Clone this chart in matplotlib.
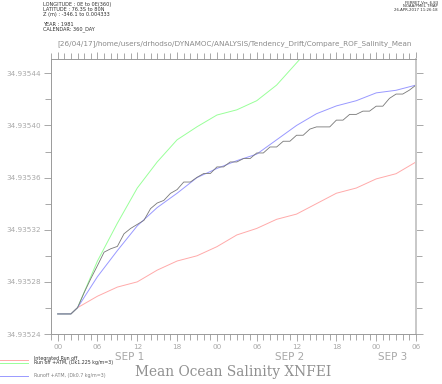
import numpy as np
import matplotlib
matplotlib.use('Agg')
import matplotlib.pyplot as plt

# hours since SEP 1 00:00
hours_3h = [0, 2, 3, 6, 9, 12, 15, 18, 21, 24, 27, 30, 33, 36, 39, 42, 45, 48, 51, 54]
red_vals = [34.9352554, 34.9352554, 34.9352602, 34.935269, 34.935276, 34.93528, 34.935289,
            34.935296, 34.9353, 34.935307, 34.935316, 34.935321, 34.935328, 34.935332,
            34.93534, 34.935348, 34.935352, 34.935359, 34.935363, 34.935372]
blue_vals = [34.9352554, 34.9352554, 34.9352602, 34.935284, 34.935304, 34.935323, 34.935337,
             34.935348, 34.93536, 34.935367, 34.935373, 34.935378, 34.935389, 34.9354,
             34.935409, 34.935415, 34.935419, 34.935425, 34.935427, 34.935431]
hours_green = [0, 2, 3, 6, 9, 12, 15, 18, 21, 24, 27, 30, 33, 36, 39]
green_vals = [34.9352554, 34.9352554, 34.9352602, 34.935296, 34.935325, 34.935352, 34.935372,
              34.935389, 34.935399, 34.935408, 34.935412, 34.935419, 34.935431, 34.935448,
              34.935465]
hours_1h = list(range(55))
black_vals = [34.9352554, 34.9352554, 34.9352554, 34.9352602, 34.9352718, 34.9352825,
              34.9352925, 34.9353028, 34.9353054, 34.9353072, 34.9353169, 34.935321,
              34.9353241, 34.9353272, 34.9353362, 34.9353405, 34.9353425, 34.9353479,
              34.9353508, 34.9353566, 34.9353566, 34.9353602, 34.9353631, 34.9353631,
              34.9353682, 34.9353682, 34.935372, 34.935372, 34.9353746, 34.9353746,
              34.9353789, 34.9353789, 34.9353835, 34.9353835, 34.9353879, 34.9353879,
              34.9353925, 34.9353925, 34.9353972, 34.9353989, 34.9353989, 34.9353989,
              34.9354041, 34.9354041, 34.9354085, 34.9354085, 34.935411, 34.935411,
              34.9354148, 34.9354148, 34.9354208, 34.9354241, 34.9354241, 34.9354271,
              34.935431]

ytick_vals = [34.93524, 34.93528, 34.93532, 34.93536, 34.93540, 34.93544]
xtick_labels = ['00', '06', '12', '18', '00', '06', '12', '18', '00', '06']
day_labels = ['SEP 1', 'SEP 2', 'SEP 3']
day_pos = [10.9, 34.9, 50.5]
legend_labels = ['Integrated Run off', 'Run off +ATM, (Dk1.225 kg/m=3)', 'Runoff +ATM, (Dk0.7 kg/m=3)']

W, H = 442, 384
fig = plt.figure(figsize=(W / 100, H / 100), dpi=100)
ax = fig.add_axes([51 / W, 1 - 334 / H, (416 - 51) / W, (334 - 59) / H])

axcol = '#9a9a9a'
labcol = '#a8a8a8'
ax.plot(hours_3h, red_vals, color='#ffaaaa', lw=0.7)
ax.plot(hours_green, green_vals, color='#99ff99', lw=0.7)
ax.plot(hours_3h, blue_vals, color='#9999ff', lw=0.7)
ax.plot(hours_1h, black_vals, color='#787878', lw=0.6)

ax.set_xlim(-1, 54)
ax.set_ylim(34.93524, 34.935451)

ax.set_xticks(np.arange(0, 55, 6))
ax.set_xticklabels(xtick_labels)
ax.set_xticks(np.arange(-1, 55, 1), minor=True)
ax.set_yticks(ytick_vals)
ax.set_yticklabels(['%.5f' % v for v in ytick_vals])
ax.set_yticks(np.arange(34.93526, 34.93545, 0.00004), minor=True)
ax.tick_params(which='both', direction='out', top=True, right=True, colors=axcol,
               labelcolor=labcol, labelsize=5.2, width=0.6)
ax.tick_params(which='major', length=5, pad=2)
ax.tick_params(which='minor', length=4)
for s in ax.spines.values():
    s.set_color(axcol)
    s.set_linewidth(0.7)
ax.spines['right'].set_linewidth(1.4)
ax.spines['right'].set_color('#c8c8c8')

for lab, xp in zip(day_labels, day_pos):
    ax.text(xp, -0.085, lab, transform=ax.get_xaxis_transform(), ha='center', va='center',
            fontsize=7.5, color=labcol)

# header texts
hdr = "LONGITUDE : 0E to 0E(360)\nLATITUDE : 76.3S to 80N\nZ (m) : -346.1 to 0.004333"
fig.text(43 / W, 1 - 2 / H, hdr, fontsize=3.6, va='top', ha='left', color='#303030', linespacing=0.95)
fig.text(43 / W, 1 - 22 / H, "YEAR : 1981\nCALENDAR: 360_DAY", fontsize=3.6, va='top', ha='left',
         color='#303030', linespacing=0.95)
fig.text(438 / W, 1 - 0.5 / H, "FERRET Ver. 6.83\nNOAA/PMEL TMAP\n26-APR-2017 11:26:18", fontsize=2.8,
         va='top', ha='right', color='#303030', linespacing=0.95)
fig.text(57 / W, 1 - 44 / H,
         "[26/04/17]/home/users/drhodso/DYNAMOC/ANALYSIS/Tendency_Drift/Compare_ROF_Salinity_Mean",
         fontsize=5.2, va='center', ha='left', color='#8a8a8a')

fig.text(233 / W, 1 - 372 / H, "Mean Ocean Salinity XNFEI", fontsize=9.9, family='DejaVu Serif',
         va='center', ha='center', color='#909090')

# legend
leg_y = [360, 363.3, 375.7]
leg_cols = ['#ffaaaa', '#99ff99', '#9999ff']
leg_text_y = [358.3, 362.3, 375.7]
leg_text_col = ['#303030', '#303030', '#808080']
for yy, c, lab, ty, tc in zip(leg_y, leg_cols, legend_labels, leg_text_y, leg_text_col):
    fig.add_artist(plt.Line2D([0, 28 / W], [1 - yy / H, 1 - yy / H], color=c, lw=0.7))
    fig.text(34 / W, 1 - ty / H, lab, fontsize=3.4, va='center', ha='left', color=tc)

fig.savefig('out.png', dpi=100)
